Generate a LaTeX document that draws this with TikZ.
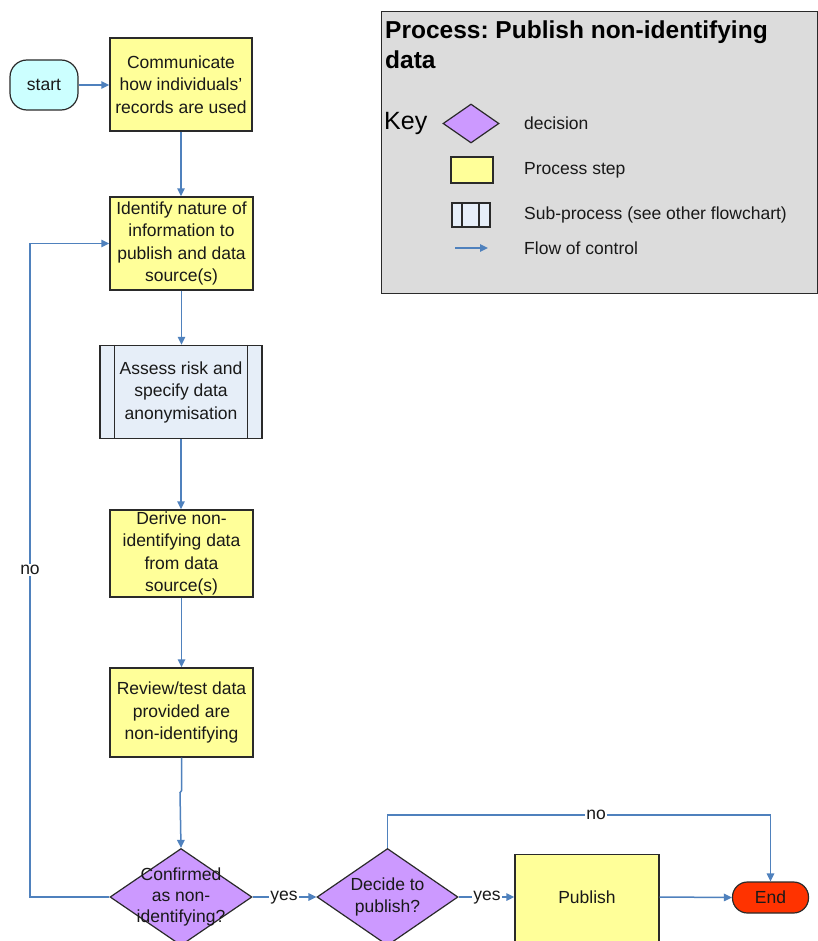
\documentclass[tikz,border=0pt]{standalone}
\usepackage{fontspec}
\setmainfont{Liberation Sans}
\frenchspacing
\usetikzlibrary{shapes.geometric,arrows.meta,calc}
\definecolor{yelc}{HTML}{FFFF99}
\definecolor{purc}{HTML}{CC99FF}
\definecolor{startc}{HTML}{CCFFFF}
\definecolor{subc}{HTML}{E6EEF8}
\definecolor{endc}{HTML}{FF3300}
\definecolor{legc}{HTML}{DCDCDC}
\definecolor{flowc}{HTML}{4F81BD}
\definecolor{edgec}{HTML}{2A2A2A}
\tikzset{
  txt/.style={font=\fontsize{17.5}{22.5}\selectfont, text=black!90},
  proc/.style={draw=edgec, line width=1.4pt, fill=yelc, txt, align=center, inner sep=0pt},
  subp/.style={draw=edgec, line width=1.4pt, fill=subc, txt, align=center, inner sep=0pt},
  term/.style={draw=edgec, line width=1.2pt, rounded corners=17pt, txt, inner sep=0pt},
  dec/.style={diamond, draw=edgec, line width=1.2pt, fill=purc, inner sep=0pt},
  flow/.style={draw=flowc, line width=1.5pt, -{Triangle[length=8pt,width=7.5pt]}},
  lbl/.style={txt, fill=white, inner sep=1pt},
  leg/.style={txt, anchor=west, inner sep=0pt}
}
\begin{document}
\begin{tikzpicture}[x=1pt,y=-1pt]
\useasboundingbox (0,0) rectangle (818,941);
\clip (0,0) rectangle (818,941);
\fill[white] (0,0) rectangle (818,941);

% legend
\node[draw=edgec, line width=1.4pt, fill=legc, minimum width=436pt, minimum height=282pt, anchor=north west, inner sep=0pt] (legend) at (381,11) {};
\node[font=\bfseries\fontsize{24.5}{30}\selectfont, anchor=base west, inner sep=0pt] (title1) at (385,38.5) {Process: Publish non-identifying};
\node[font=\bfseries\fontsize{24.5}{30}\selectfont, anchor=base west, inner sep=0pt] (title2) at (385,68.5) {data};
\node[font=\fontsize{25}{30}\selectfont, anchor=west, inner sep=0pt] (key) at (384,123) {Key};
\node[dec, minimum width=56pt, minimum height=39pt] (kdec) at (471,123.5) {};
\node[proc, minimum width=42pt, minimum height=26pt] (kproc) at (472,170) {};
\node[subp, minimum width=38pt, minimum height=24pt] (ksub) at (471,215) {};
\draw[edgec, line width=1.4pt] (462,203) -- (462,227) (479,203) -- (479,227);
\coordinate (ka) at (455,248);
\coordinate (kb) at (488,248);
\draw[flow] (ka) -- (kb);
\node[leg] (l1) at (524,123) {decision};
\node[leg] (l2) at (524,170) {Process step};
\node[leg] (l3) at (524,215) {Sub-process (see other flowchart)};
\node[leg] (l4) at (524,248) {Flow of control};

% flowchart nodes
\node[term, fill=startc, minimum width=68pt, minimum height=50pt] (start) at (44,85) {start};
\node[proc, minimum width=142pt, minimum height=93pt] (comm) at (181,84.5) {Communicate\\how individuals'\\records are used};
\node[proc, minimum width=143pt, minimum height=93pt] (ident) at (181.5,243.5) {Identify nature of\\information to\\publish and data\\source(s)};
\node[subp, minimum width=162pt, minimum height=93pt] (assess) at (181,392) {Assess risk and\\specify data\\anonymisation};
\draw[edgec, line width=1.4pt] ($(assess.north west)+(15,0)$) -- ($(assess.south west)+(15,0)$);
\draw[edgec, line width=1.4pt] ($(assess.north east)+(-15,0)$) -- ($(assess.south east)+(-15,0)$);
\node[proc, minimum width=143pt, minimum height=87pt] (derive) at (181.5,553.5) {Derive non-\\identifying data\\from data\\source(s)};
\node[proc, minimum width=143pt, minimum height=89pt] (review) at (181.5,712.5) {Review/test data\\provided are\\non-identifying};
\node[dec, minimum width=142pt, minimum height=97pt] (d1) at (181,897) {};
\node[txt, align=center, inner sep=0pt, font=\fontsize{17.5}{21}\selectfont] (d1t) at (181,897) {Confirmed\\as non-\\identifying?};
\node[dec, minimum width=141pt, minimum height=97pt] (d2) at (387.5,897) {};
\node[txt, align=center, inner sep=0pt, font=\fontsize{17.5}{22}\selectfont] (d2t) at (387.5,897) {Decide to\\publish?};
\node[proc, minimum width=144pt, minimum height=96pt, anchor=north] (pub) at (587,854) {};
\node[txt, inner sep=0pt] (pubt) at (587,897) {Publish};
\node[term, fill=endc, minimum width=76pt, minimum height=31pt, rounded corners=15pt] (endn) at (770.5,897.5) {End};

% connectors
\draw[flow] (start.east) -- (comm.west |- start.east);
\draw[flow] (comm.south) -- (ident.north -| comm.south);
\draw[flow] (ident.south) -- (assess.north -| ident.south);
\draw[flow] (assess.south) -- (derive.north -| assess.south);
\draw[flow] (derive.south) -- (review.north -| derive.south);
\draw[flow] (review.south) -- ++(0,33) -- ++(-1.5,2) -- (d1.north);
\coordinate (nlx) at (30,0);
\draw[flow] (d1.west) -- (d1.west -| nlx) -- (ident.west -| nlx) -- (ident.west);
\node[lbl] (no1) at (30,570) {no};
\draw[flow] (d1.east) -- (d2.west);
\node[lbl] (yes1) at (284,898) {yes};
\draw[flow] (d2.east) -- (d2.east -| pub.west);
\node[lbl] (yes2) at (487,898) {yes};
\draw[flow] (pubt -| pub.east) -- (endn.west);
\coordinate (nty) at (0,815);
\draw[flow] (d2.north) -- (d2.north |- nty) -- (endn.north |- nty) -- (endn.north);
\node[lbl] (no2) at (596,815) {no};
\end{tikzpicture}
\end{document}
